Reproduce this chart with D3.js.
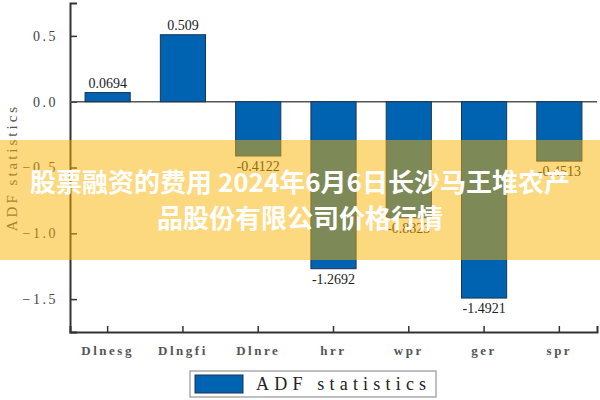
<!DOCTYPE html>
<html>
<head>
<meta charset="utf-8">
<script src="https://cdn.jsdelivr.net/npm/d3@7"></script>
<style>
  body { margin: 0; background: #fff; }
  svg { display: block; }
</style>
</head>
<body>
<script>
// chart values
const categories = ['Dlnesg', 'Dlngfi', 'Dlnre', 'hrr', 'wpr', 'ger', 'spr']
const adfValues = [0.0694, 0.509, -0.4122, -1.2692, -0.8823, -1.4921, -0.4513]
const adfLabels = ['0.0694', '0.509', '-0.4122', '-1.2692', '-0.8823', '-1.4921', '-0.4513']
const yTicks = [0.5, 0.0, -0.5, -1.0, -1.5]
const seriesName = 'ADF statistics'
const bannerLines = ['股票融资的费用 2024年6月6日长沙马王堆农产', '品股份有限公司价格行情']

const svgWidth = 600
const svgHeight = 400
const margin = { top: 3, right: 3, bottom: 68, left: 70 }
const width = svgWidth - margin.left - margin.right
const height = svgHeight - margin.top - margin.bottom

const svg = d3.select('body')
    .append('svg')
    .attr('width', svgWidth)
    .attr('height', svgHeight)

const chartGroup = svg.append('g')
    .attr('transform', `translate(${margin.left}, ${margin.top})`)

// scales
const x = d3.scaleBand()
    .domain(categories)
    .range([0, width])
    .paddingInner(0.4)
    .paddingOuter(0.2)

const y = d3.scaleLinear()
    .domain([-1.75, 0.75])
    .range([height, 0])

const axisFont = '"Liberation Serif", "DejaVu Serif", serif'

// y axis
const yAxis = d3.axisLeft(y)
    .tickValues(yTicks)
    .tickSize(-7)
    .tickPadding(12)
    .tickFormat(d3.format('.1f'))

const yG = chartGroup.append('g').call(yAxis)
yG.select('.domain').attr('stroke', '#333').attr('stroke-width', 2)
yG.selectAll('.tick line').attr('stroke', '#333').attr('stroke-width', 1.5)
yG.selectAll('.tick text')
    .attr('font-family', axisFont)
    .attr('font-size', 14)
    .attr('letter-spacing', 2.5)
    .attr('fill', '#444')

// x axis
const xAxis = d3.axisBottom(x)
    .tickSize(-6)
    .tickPadding(14)

const xG = chartGroup.append('g')
    .attr('transform', `translate(0, ${height})`)
    .call(xAxis)
xG.select('.domain').attr('stroke', '#333').attr('stroke-width', 2)
xG.selectAll('.tick line').attr('stroke', '#333').attr('stroke-width', 1.5)
xG.selectAll('.tick text')
    .attr('font-family', axisFont)
    .attr('font-size', 13)
    .attr('font-weight', 'bold')
    .attr('letter-spacing', 2.5)
    .attr('fill', '#555')

// zero line
chartGroup.append('line')
    .attr('x1', 0)
    .attr('x2', width)
    .attr('y1', y(0))
    .attr('y2', y(0))
    .attr('stroke', '#555')
    .attr('stroke-width', 1.5)

// bars
chartGroup.selectAll('rect.bar')
    .data(adfValues)
    .enter()
    .append('rect')
    .attr('class', 'bar')
    .attr('x', (d, i) => x(categories[i]))
    .attr('width', x.bandwidth())
    .attr('y', d => y(Math.max(0, d)))
    .attr('height', d => Math.abs(y(d) - y(0)))
    .attr('fill', '#0063B1')
    .attr('stroke', '#1c3550')
    .attr('stroke-width', 1)

// bar labels
chartGroup.selectAll('text.val')
    .data(adfValues)
    .enter()
    .append('text')
    .attr('class', 'val')
    .attr('x', (d, i) => x(categories[i]) + x.bandwidth() / 2)
    .attr('y', d => d >= 0 ? y(d) - 5 : y(d) + 15)
    .attr('text-anchor', 'middle')
    .attr('font-family', axisFont)
    .attr('font-size', 14)
    .attr('fill', '#222')
    .text((d, i) => adfLabels[i])

// y axis title
svg.append('text')
    .attr('transform', `translate(17, ${margin.top + y(-0.5)}) rotate(-90)`)
    .attr('text-anchor', 'middle')
    .attr('font-family', axisFont)
    .attr('font-size', 15)
    .attr('letter-spacing', 3)
    .attr('fill', '#555')
    .text(seriesName)

// legend
const legend = svg.append('g').attr('transform', 'translate(190, 371)')
legend.append('rect')
    .attr('width', 246)
    .attr('height', 26)
    .attr('fill', '#fff')
    .attr('stroke', '#aaa')
    .attr('stroke-width', 1.5)
legend.append('rect')
    .attr('x', 5)
    .attr('y', 4)
    .attr('width', 48)
    .attr('height', 18)
    .attr('fill', '#0063B1')
    .attr('stroke', '#1c3550')
legend.append('text')
    .attr('x', 66)
    .attr('y', 19)
    .attr('font-family', axisFont)
    .attr('font-size', 18)
    .attr('letter-spacing', 5.2)
    .attr('fill', '#222')
    .text(seriesName)

// banner overlay
svg.append('rect')
    .attr('x', 0)
    .attr('y', 140)
    .attr('width', svgWidth)
    .attr('height', 120)
    .attr('fill', 'rgb(249, 178, 0)')
    .attr('fill-opacity', 0.5)

svg.selectAll('text.banner')
    .data(bannerLines)
    .enter()
    .append('text')
    .attr('class', 'banner')
    .attr('x', svgWidth / 2)
    .attr('y', (d, i) => 192 + i * 36)
    .attr('text-anchor', 'middle')
    .attr('font-family', '"Noto Sans CJK SC", sans-serif')
    .attr('font-weight', 'bold')
    .attr('font-size', 26)
    .attr('fill', '#fff')
    .text(d => d)
</script>
</body>
</html>
